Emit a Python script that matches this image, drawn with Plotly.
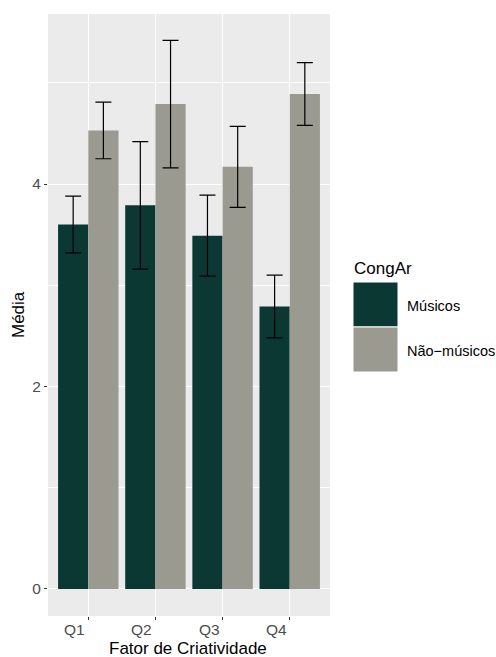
import plotly.graph_objects as go

categories = ["Q1", "Q2", "Q3", "Q4"]
musicos = [3.60, 3.79, 3.49, 2.79]
musicos_err = [0.28, 0.63, 0.40, 0.31]
nao_musicos = [4.53, 4.79, 4.17, 4.89]
nao_musicos_err = [0.28, 0.63, 0.40, 0.31]
series_names = ["Músicos", "Não−músicos"]
colors = ["#0C3834", "#9A9A90"]
y_ticks = [0, 2, 4]
y_minor = [1, 3, 5]

FONT = "Liberation Sans, Arial, Helvetica, sans-serif"
W, H = 496, 657
L, R, T, B = 48, 330, 14, 616   # plot panel in pixels


def px(x):
    return (x - L) / (R - L)


def py(y):
    return (B - y) / (B - T)


fig = go.Figure()
for name, vals, errs, col in [
    (series_names[0], musicos, musicos_err, colors[0]),
    (series_names[1], nao_musicos, nao_musicos_err, colors[1]),
]:
    fig.add_trace(go.Bar(
        x=categories, y=vals, name=name, marker=dict(color=col, line=dict(width=0)),
        error_y=dict(type="data", array=errs, visible=True, color="black",
                     thickness=1.2, width=8),
        showlegend=False,
    ))

# x tick labels (right-aligned just left of each tick, as in the reference)
for c in categories:
    fig.add_annotation(x=c, xref="x", y=py(629.5), yref="paper", text=c,
                       showarrow=False, xanchor="right", yanchor="middle", xshift=-1,
                       font=dict(family=FONT, size=15.5, color="#4D4D4D"))

# axis titles
fig.add_annotation(x=px(188), y=py(648.5), xref="paper", yref="paper",
                   text="Fator de Criatividade", showarrow=False,
                   xanchor="center", yanchor="middle",
                   font=dict(family=FONT, size=17, color="black"))
fig.add_annotation(x=px(18), y=py(315), xref="paper", yref="paper",
                   text="Média", showarrow=False, textangle=-90,
                   xanchor="center", yanchor="middle",
                   font=dict(family=FONT, size=17, color="black"))

# custom ggplot-like legend
legend_x0 = 353
key = 45
ys = [282, 327]
fig.add_annotation(x=px(legend_x0 - 1), y=py(268), xref="paper", yref="paper",
                   text="CongAr", showarrow=False, xanchor="left", yanchor="middle",
                   font=dict(family=FONT, size=17, color="black"))
for i, (name, col) in enumerate(zip(series_names, colors)):
    fig.add_shape(type="rect", xref="paper", yref="paper",
                  x0=px(legend_x0), x1=px(legend_x0 + key),
                  y0=py(ys[i] + key), y1=py(ys[i]),
                  fillcolor=col, line=dict(color="white", width=1))
    fig.add_annotation(x=px(legend_x0 + key + 7), y=py(ys[i] + key / 2 + 1), xref="paper", yref="paper",
                       text=name, showarrow=False, xanchor="left", yanchor="middle",
                       font=dict(family=FONT, size=14.5, color="black"))

fig.update_layout(
    width=W, height=H,
    margin=dict(l=L, r=W - R, t=T, b=H - B, pad=0),
    paper_bgcolor="white",
    plot_bgcolor="#EBEBEB",
    barmode="group", bargap=0.1, bargroupgap=0,
    font=dict(family=FONT),
    showlegend=False,
    xaxis=dict(
        range=[-0.6, 3.6], showgrid=True, gridcolor="white", gridwidth=1.1,
        ticks="outside", ticklen=3, tickcolor="#333333", tickwidth=1,
        showticklabels=False, automargin=False,
        zeroline=False, showline=False,
    ),
    yaxis=dict(
        range=[-0.267, 5.68], tickvals=y_ticks, showgrid=True, gridcolor="white", gridwidth=1.1,
        minor=dict(tickvals=y_minor, showgrid=True, gridcolor="white", gridwidth=0.5, ticks=""),
        ticks="outside", ticklen=3, tickcolor="#333333", tickwidth=1,
        tickfont=dict(family=FONT, size=15.5, color="#4D4D4D"),
        automargin=False, zeroline=False, showline=False,
    ),
)

fig.write_html(
    "out.html",
    config={"displayModeBar": False},
    post_script="document.body.style.margin='0';document.body.style.padding='0';"
                "document.body.style.overflow='hidden';",
)
